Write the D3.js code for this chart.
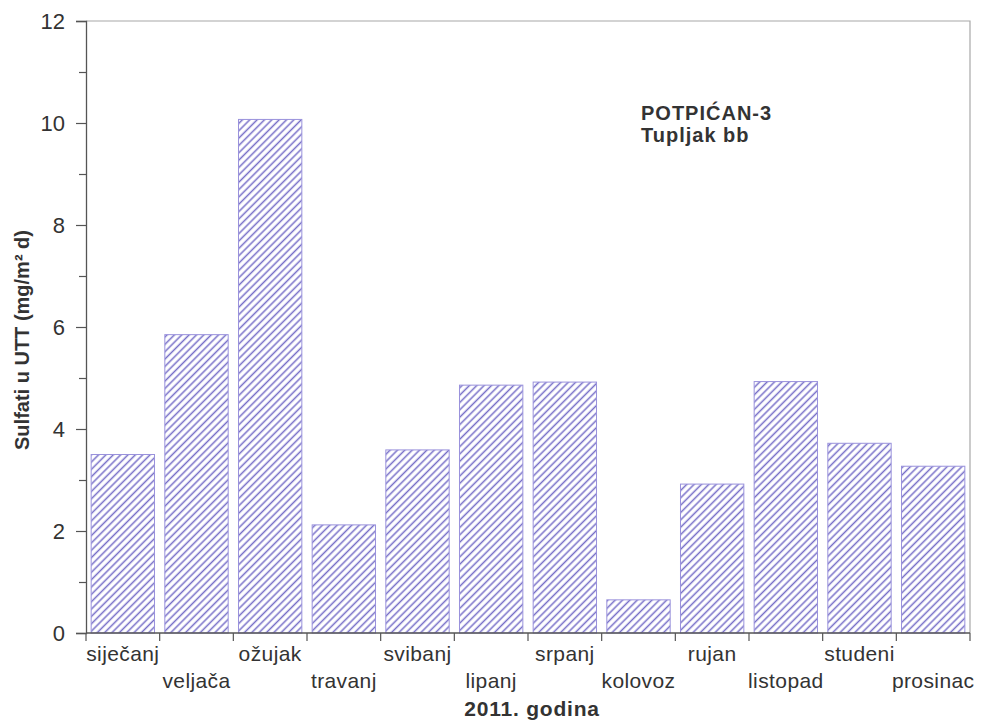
<!DOCTYPE html>
<html>
<head>
<meta charset="utf-8">
<script src="https://cdn.jsdelivr.net/npm/d3@7"></script>
<style>
  body { margin: 0; background: #fff; }
  svg text { font-family: "Liberation Sans", Arial, sans-serif; fill: #333; }
</style>
</head>
<body>
<div id="vis"></div>
<script>
// months on the x axis
var months = ["siječanj", "veljača", "ožujak", "travanj", "svibanj", "lipanj",
              "srpanj", "kolovoz", "rujan", "listopad", "studeni", "prosinac"];
// monthly sulphate values (mg/m² d)
var values = [3.5, 5.85, 10.07, 2.12, 3.59, 4.86, 4.92, 0.65, 2.92, 4.93, 3.72, 3.27];
var majorTicks = [0, 2, 4, 6, 8, 10, 12];
var minorTicks = [1, 3, 5, 7, 9, 11];

var width = 985, height = 720;
var margin = {left: 86, top: 21, right: 15, bottom: 87};

var svg = d3.select("#vis").append("svg")
    .attr("width", width)
    .attr("height", height);

// hatch fill for the bars
var defs = svg.append("defs");
var pat = defs.append("pattern")
    .attr("id", "hatch")
    .attr("patternUnits", "userSpaceOnUse")
    .attr("width", 5.2)
    .attr("height", 5.2)
    .attr("patternTransform", "rotate(45)");
pat.append("line")
    .attr("x1", 1.3).attr("y1", 0)
    .attr("x2", 1.3).attr("y2", 5.2)
    .attr("stroke", "#766ec7")
    .attr("stroke-width", 1.5);

var x = d3.scaleBand()
    .domain(months)
    .range([margin.left, width - margin.right])
    .paddingInner(0.14)
    .paddingOuter(0.07);

var y = d3.scaleLinear()
    .domain([0, 12])
    .range([height - margin.bottom, margin.top]);

// frame (top + right, lighter)
svg.append("path")
    .attr("d", "M" + margin.left + "," + y(12) + "H" + (width - margin.right) + "V" + y(0))
    .attr("fill", "none")
    .attr("stroke", "#a8a8a8")
    .attr("stroke-width", 1.2);

// bars
svg.selectAll(".bar")
    .data(values)
    .enter()
    .append("rect")
    .attr("class", "bar")
    .attr("x", function(d, i) { return x(months[i]); })
    .attr("y", function(d) { return y(d); })
    .attr("width", x.bandwidth())
    .attr("height", function(d) { return y(0) - y(d); })
    .attr("fill", "url(#hatch)")
    .attr("stroke", "#9a92dc")
    .attr("stroke-width", 1);

// y axis
var yAxis = svg.append("g")
    .attr("transform", "translate(" + margin.left + ",0)")
    .call(d3.axisLeft(y).tickValues(majorTicks).tickSize(10).tickPadding(11).tickFormat(d3.format("d")));
yAxis.select(".domain").attr("stroke", "#555").attr("stroke-width", 1.3);
yAxis.selectAll(".tick line").attr("stroke", "#555").attr("stroke-width", 1.2);
yAxis.selectAll(".tick text")
    .style("font-size", "22px")
    .attr("fill", "#333");

svg.append("g")
    .attr("transform", "translate(" + margin.left + ",0)")
    .call(d3.axisLeft(y).tickValues(minorTicks).tickSize(7).tickFormat(""))
    .call(function(g) { g.select(".domain").remove(); })
    .selectAll(".tick line").attr("stroke", "#555").attr("stroke-width", 1.2);

// x axis: ticks at band boundaries
var xBounds = months.map(function(m) { return x(m) - x.step() * x.paddingInner() / 2; });
xBounds.push(width - margin.right);
var xa = svg.append("g").attr("class", "xaxis");
xa.append("line")
    .attr("x1", margin.left).attr("x2", width - margin.right)
    .attr("y1", y(0)).attr("y2", y(0))
    .attr("stroke", "#555").attr("stroke-width", 1.3);
xa.selectAll(".xt")
    .data(xBounds)
    .enter()
    .append("line")
    .attr("x1", function(d) { return d; })
    .attr("x2", function(d) { return d; })
    .attr("y1", y(0))
    .attr("y2", y(0) + 8)
    .attr("stroke", "#555")
    .attr("stroke-width", 1.2);

xa.selectAll(".xl")
    .data(months)
    .enter()
    .append("text")
    .attr("x", function(d) { return x(d) + x.bandwidth() / 2; })
    .attr("y", function(d, i) { return i % 2 === 0 ? y(0) + 28 : y(0) + 55; })
    .attr("text-anchor", "middle")
    .style("font-size", "21px")
    .style("letter-spacing", "0.4px")
    .text(function(d) { return d; });

// axis titles
svg.append("text")
    .attr("x", (margin.left + width - margin.right) / 2 + 4)
    .attr("y", 716)
    .attr("text-anchor", "middle")
    .style("font-size", "21px")
    .style("font-weight", "bold")
    .style("letter-spacing", "0.8px")
    .text("2011. godina");

svg.append("text")
    .attr("transform", "translate(29,340) rotate(-90)")
    .attr("text-anchor", "middle")
    .style("font-size", "20px")
    .style("font-weight", "bold")
    .text("Sulfati u UTT (mg/m² d)");

// station label
svg.append("text")
    .attr("x", 641).attr("y", 120)
    .style("font-size", "20px")
    .style("font-weight", "bold")
    .style("letter-spacing", "1px")
    .text("POTPIĆAN-3");
svg.append("text")
    .attr("x", 641).attr("y", 142)
    .style("font-size", "20px")
    .style("font-weight", "bold")
    .style("letter-spacing", "1px")
    .text("Tupljak bb");
</script>
</body>
</html>
